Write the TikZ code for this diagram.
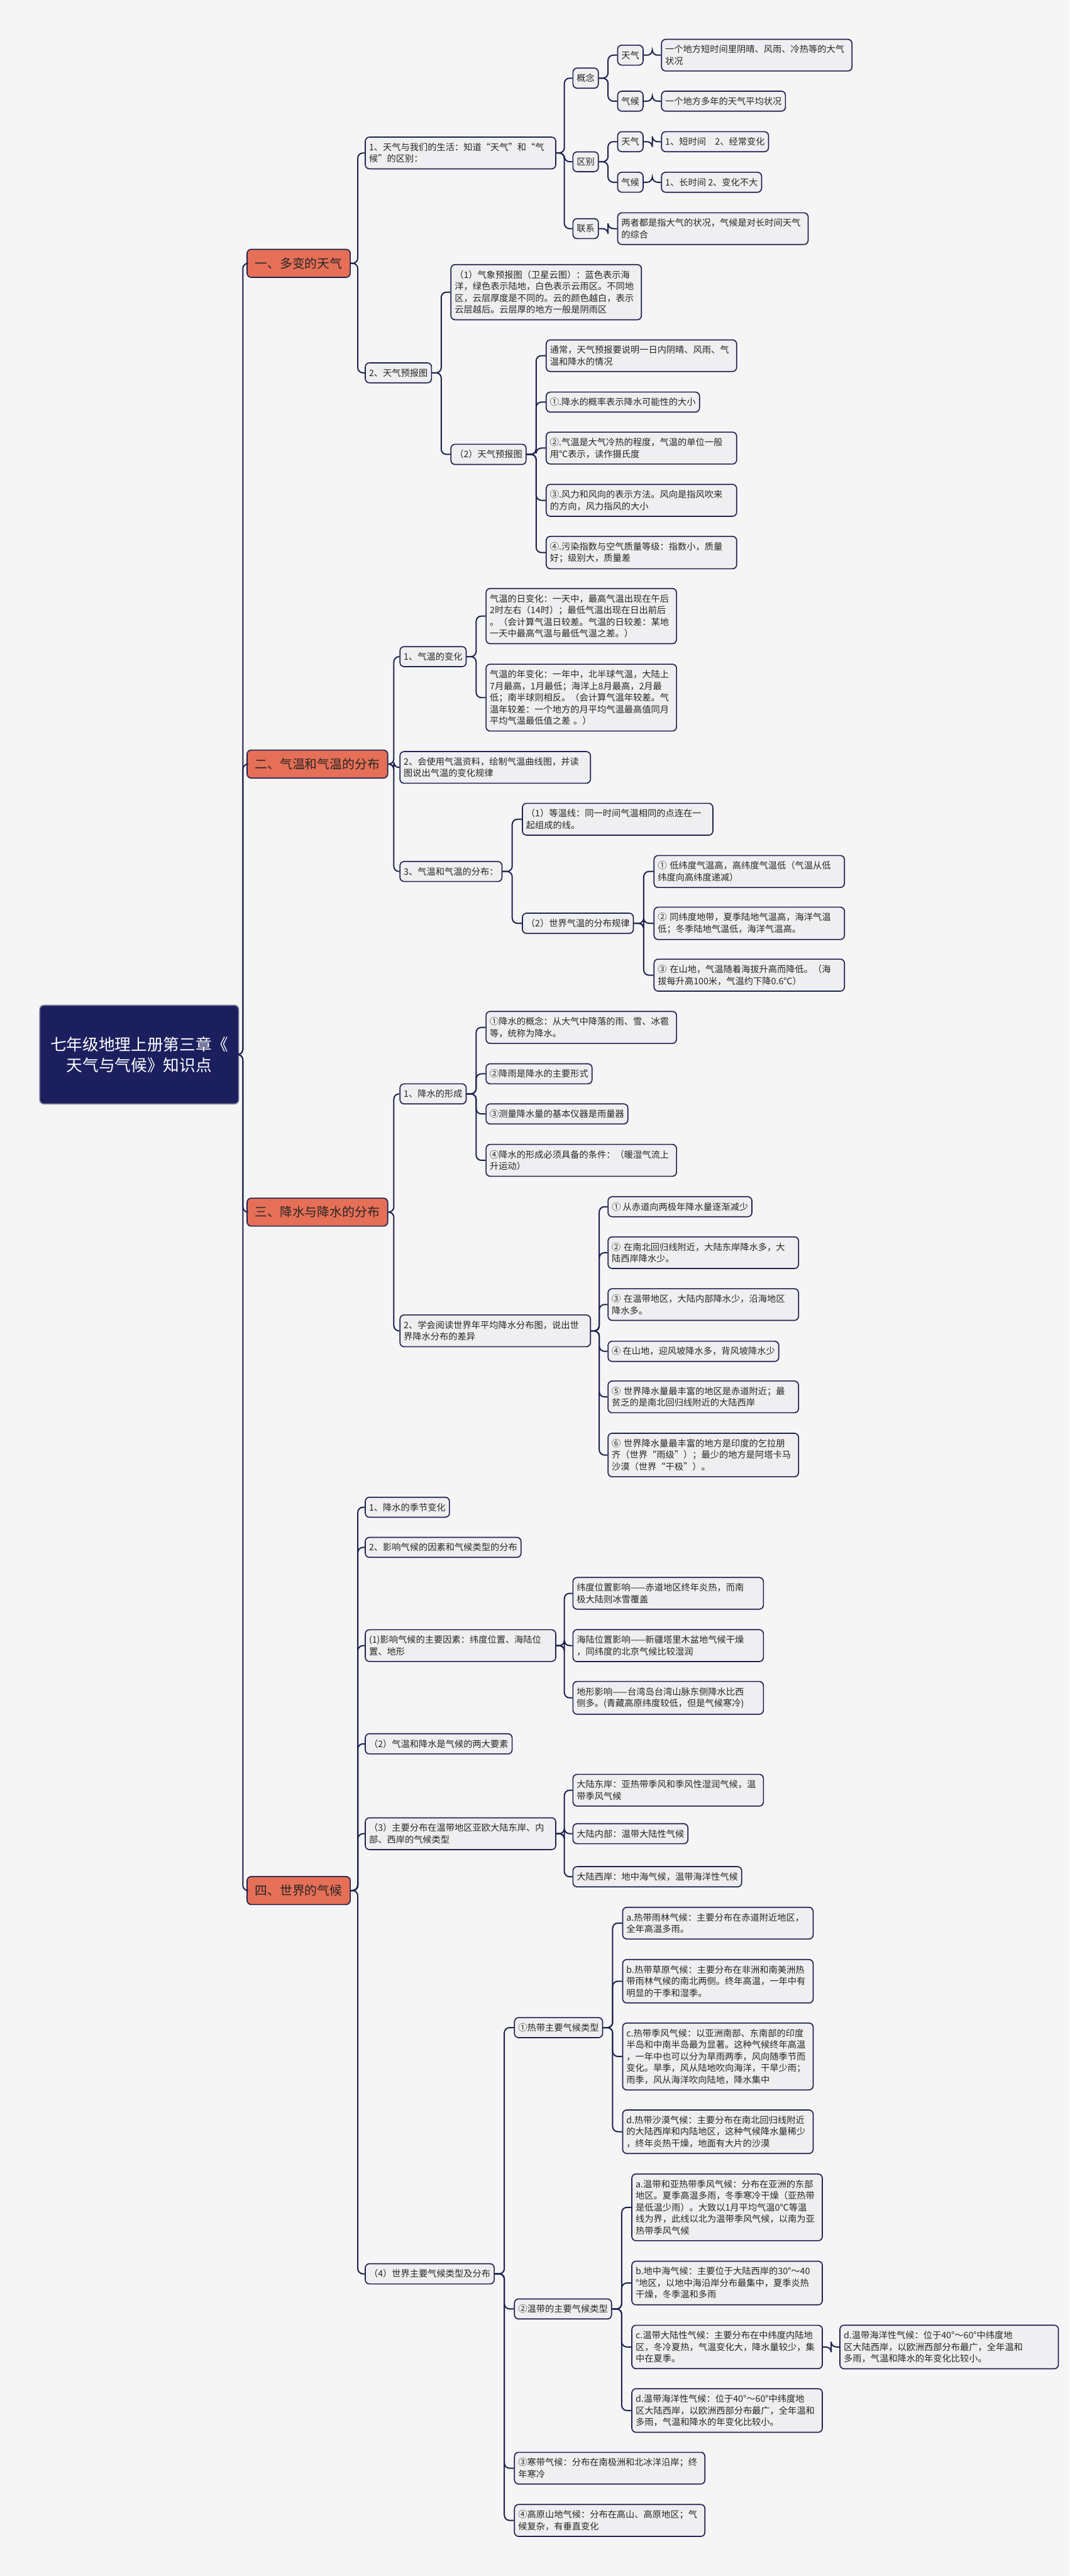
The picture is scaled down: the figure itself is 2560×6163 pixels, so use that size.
\documentclass[tikz,border=0pt]{standalone}
\usepackage{fontspec}
\setmainfont{Noto Sans CJK SC}
\usetikzlibrary{calc}

\definecolor{paper}{HTML}{F5F5F5}
\definecolor{ink}{HTML}{1E2150}
\definecolor{boxfill}{HTML}{EFEFF1}
\definecolor{topicfill}{HTML}{E66F57}
\definecolor{rootfill}{HTML}{1B1F5E}

\begin{document}
\begin{tikzpicture}[x=0.02cm, y=-0.02cm,
    leaf/.style={draw=ink, line width=0.05cm, fill=boxfill, rounded corners=0.2cm,
      anchor=west, align=left, inner xsep=0.18cm, inner ysep=0.28cm,
      font=\fontsize{12.2pt}{15.9pt}\selectfont, text=black!85},
    wide/.style={leaf, text width=8.76cm},
    topic/.style={draw=ink, line width=0.05cm, fill=topicfill, rounded corners=0.2cm,
      anchor=west, inner xsep=0.38cm, minimum height=1.34cm,
      font=\fontsize{17pt}{20pt}\selectfont, text=black!85},
    link/.style={draw=ink, line width=0.06cm, rounded corners=0.25cm}]

\fill[paper] (0,0) rectangle (2560,6163);

% root and topics
\node[draw=ink!60, line width=0.05cm, fill=rootfill, rounded corners=0.2cm, anchor=west,
  minimum width=9.52cm, minimum height=4.72cm, align=center, text=white,
  font=\fontsize{22pt}{28pt}\selectfont] (root) at (94,2523) {七年级地理上册第三章《\\天气与气候》知识点};
\node[topic] (t1) at (590,630) {一、多变的天气};
\node[topic] (t2) at (590,1828) {二、气温和气温的分布};
\node[topic] (t3) at (590,2900) {三、降水与降水的分布};
\node[topic] (t4) at (590,4523) {四、世界的气候};

% 一
\node[wide] (w1) at (873,366) {1、天气与我们的生活：知道“天气”和“气\\候”的区别：};
\node[leaf] (w2) at (873,892) {2、天气预报图};
\node[leaf] (gn) at (1370,187) {概念};
\node[leaf] (qb) at (1370,387) {区别};
\node[leaf] (lx) at (1370,547) {联系};
\node[leaf] (gn1) at (1477,132) {天气};
\node[leaf] (gn2) at (1477,242) {气候};
\node[wide] (gn1t) at (1582,132) {一个地方短时间里阴晴、风雨、冷热等的大气\\状况};
\node[leaf] (gn2t) at (1582,242) {一个地方多年的天气平均状况};
\node[leaf] (qb1) at (1477,339) {天气};
\node[leaf] (qb2) at (1477,436) {气候};
\node[leaf] (qb1t) at (1582,339) {1、短时间\quad 2、经常变化};
\node[leaf] (qb2t) at (1582,436) {1、长时间 2、变化不大};
\node[wide] (lxt) at (1477,547) {两者都是指大气的状况，气候是对长时间天气\\的综合};
\node[wide] (yb1) at (1078,699) {（1）气象预报图（卫星云图）：蓝色表示海\\洋，绿色表示陆地，白色表示云雨区。不同地\\区，云层厚度是不同的。云的颜色越白，表示\\云层越后。云层厚的地方一般是阴雨区};
\node[leaf] (yb2) at (1078,1087) {（2）天气预报图};
\node[wide] (yb2a) at (1306,851) {通常，天气预报要说明一日内阴晴、风雨、气\\温和降水的情况};
\node[leaf] (yb2b) at (1306,962) {①.降水的概率表示降水可能性的大小};
\node[wide] (yb2c) at (1306,1072) {②.气温是大气冷热的程度，气温的单位一般\\用℃表示，读作摄氏度};
\node[wide] (yb2d) at (1306,1197) {③.风力和风向的表示方法。风向是指风吹来\\的方向，风力指风的大小};
\node[wide] (yb2e) at (1306,1322) {④.污染指数与空气质量等级：指数小，质量\\好；级别大，质量差};

% 二
\node[leaf] (tp1) at (956,1571) {1、气温的变化};
\node[wide] (tp2) at (956,1836) {2、会使用气温资料，绘制气温曲线图，并读\\图说出气温的变化规律};
\node[leaf] (tp3) at (956,2085) {3、气温和气温的分布：};
\node[wide] (tp1a) at (1162,1474) {气温的日变化：一天中，最高气温出现在午后\\2时左右（14时）；最低气温出现在日出前后\\。（会计算气温日较差。气温的日较差：某地\\一天中最高气温与最低气温之差。）};
\node[wide] (tp1b) at (1162,1669) {气温的年变化：一年中，北半球气温，大陆上\\7月最高，1月最低；海洋上8月最高，2月最\\低；南半球则相反。（会计算气温年较差。气\\温年较差：一个地方的月平均气温最高值同月\\平均气温最低值之差 。）};
\node[wide] (tp3a) at (1249,1960) {（1）等温线：同一时间气温相同的点连在一\\起组成的线。};
\node[leaf] (tp3b) at (1249,2209) {（2）世界气温的分布规律};
\node[wide] (tp3b1) at (1564,2085) {① 低纬度气温高，高纬度气温低（气温从低\\纬度向高纬度递减）};
\node[wide] (tp3b2) at (1564,2209) {② 同纬度地带，夏季陆地气温高，海洋气温\\低；冬季陆地气温低，海洋气温高。};
\node[wide] (tp3b3) at (1564,2333) {③ 在山地，气温随着海拔升高而降低。（海\\拔每升高100米，气温约下降0.6℃）};

% 三
\node[leaf] (rn1) at (956,2617) {1、降水的形成};
\node[wide] (rn2) at (956,3184) {2、学会阅读世界年平均降水分布图，说出世\\界降水分布的差异};
\node[wide] (rn1a) at (1162,2458) {①降水的概念：从大气中降落的雨、雪、冰雹\\等，统称为降水。};
\node[leaf] (rn1b) at (1162,2569) {②降雨是降水的主要形式};
\node[leaf] (rn1c) at (1162,2665) {③测量降水量的基本仪器是雨量器};
\node[wide] (rn1d) at (1162,2776) {④降水的形成必须具备的条件：（暖湿气流上\\升运动）};
\node[leaf] (rn2a) at (1454,2887) {① 从赤道向两极年降水量逐渐减少};
\node[wide] (rn2b) at (1454,2997) {② 在南北回归线附近，大陆东岸降水多，大\\陆西岸降水少。};
\node[wide] (rn2c) at (1454,3121) {③ 在温带地区，大陆内部降水少，沿海地区\\降水多。};
\node[leaf] (rn2d) at (1454,3233) {④ 在山地，迎风坡降水多，背风坡降水少};
\node[wide] (rn2e) at (1454,3342) {⑤ 世界降水量最丰富的地区是赤道附近；最\\贫乏的是南北回归线附近的大陆西岸};
\node[wide] (rn2f) at (1454,3481) {⑥ 世界降水量最丰富的地方是印度的乞拉朋\\齐（世界“雨级”）；最少的地方是阿塔卡马\\沙漠（世界“干极”）。};

% 四
\node[leaf] (cl1) at (873,3606) {1、降水的季节变化};
\node[leaf] (cl2) at (873,3702) {2、影响气候的因素和气候类型的分布};
\node[wide] (cl3) at (873,3937) {(1)影响气候的主要因素：纬度位置、海陆位\\置、地形};
\node[leaf] (cl4) at (873,4172) {（2）气温和降水是气候的两大要素};
\node[wide] (cl5) at (873,4387) {（3）主要分布在温带地区亚欧大陆东岸、内\\部、西岸的气候类型};
\node[leaf] (cl6) at (873,5440) {（4）世界主要气候类型及分布};
\node[wide] (cl3a) at (1370,3812) {纬度位置影响——赤道地区终年炎热，而南\\极大陆则冰雪覆盖};
\node[wide] (cl3b) at (1370,3937) {海陆位置影响——新疆塔里木盆地气候干燥\\，同纬度的北京气候比较湿润};
\node[wide] (cl3c) at (1370,4062) {地形影响——台湾岛台湾山脉东侧降水比西\\侧多。(青藏高原纬度较低，但是气候寒冷)};
\node[wide] (cl5a) at (1370,4283) {大陆东岸：亚热带季风和季风性湿润气候，温\\带季风气候};
\node[leaf] (cl5b) at (1370,4387) {大陆内部：温带大陆性气候};
\node[leaf] (cl5c) at (1370,4490) {大陆西岸：地中海气候，温带海洋性气候};
\node[leaf] (zone1) at (1230,4851) {①热带主要气候类型};
\node[leaf] (zone2) at (1230,5524) {②温带的主要气候类型};
\node[wide] (zone3) at (1230,5905) {③寒带气候：分布在南极洲和北冰洋沿岸；终\\年寒冷};
\node[wide] (zone4) at (1230,6030) {④高原山地气候：分布在高山、高原地区；气\\候复杂，有垂直变化};
\node[wide] (z1a) at (1489,4601) {a.热带雨林气候：主要分布在赤道附近地区，\\全年高温多雨。};
\node[wide] (z1b) at (1489,4740) {b.热带草原气候：主要分布在非洲和南美洲热\\带雨林气候的南北两侧。终年高温，一年中有\\明显的干季和湿季。};
\node[wide] (z1c) at (1489,4920) {c.热带季风气候：以亚洲南部、东南部的印度\\半岛和中南半岛最为显著。这种气候终年高温\\，一年中也可以分为旱雨两季，风向随季节而\\变化。旱季，风从陆地吹向海洋，干旱少雨；\\雨季，风从海洋吹向陆地，降水集中};
\node[wide] (z1d) at (1489,5100) {d.热带沙漠气候：主要分布在南北回归线附近\\的大陆西岸和内陆地区，这种气候降水量稀少\\，终年炎热干燥，地面有大片的沙漠};
\node[wide] (z2a) at (1511,5281) {a.温带和亚热带季风气候：分布在亚洲的东部\\地区。夏季高温多雨，冬季寒冷干燥（亚热带\\是低温少雨）。大致以1月平均气温0℃等温\\线为界，此线以北为温带季风气候，以南为亚\\热带季风气候};
\node[wide] (z2b) at (1511,5462) {b.地中海气候：主要位于大陆西岸的30°～40\\°地区，以地中海沿岸分布最集中，夏季炎热\\干燥，冬季温和多雨};
\node[wide] (z2c) at (1511,5615) {c.温带大陆性气候：主要分布在中纬度内陆地\\区，冬冷夏热，气温变化大，降水量较少，集\\中在夏季。};
\node[wide] (z2d) at (1511,5767) {d.温带海洋性气候：位于40°～60°中纬度地\\区大陆西岸，以欧洲西部分布最广，全年温和\\多雨，气温和降水的年变化比较小。};
\node[leaf, text width=10.1cm] (z2cx) at (2009,5615) {d.温带海洋性气候：位于40°～60°中纬度地\\区大陆西岸，以欧洲西部分布最广，全年温和\\多雨，气温和降水的年变化比较小。};

% connectors
\foreach \p/\kids in {root/{t1,t2,t3,t4}, t1/{w1,w2}, w1/{gn,qb,lx}, gn/{gn1,gn2}, qb/{qb1,qb2},
    gn1/{gn1t}, gn2/{gn2t}, qb1/{qb1t}, qb2/{qb2t}, lx/{lxt}, w2/{yb1,yb2}, yb2/{yb2a,yb2b,yb2c,yb2d,yb2e},
    t2/{tp1,tp2,tp3}, tp1/{tp1a,tp1b}, tp3/{tp3a,tp3b}, tp3b/{tp3b1,tp3b2,tp3b3},
    t3/{rn1,rn2}, rn1/{rn1a,rn1b,rn1c,rn1d}, rn2/{rn2a,rn2b,rn2c,rn2d,rn2e,rn2f},
    t4/{cl1,cl2,cl3,cl4,cl5,cl6}, cl3/{cl3a,cl3b,cl3c}, cl5/{cl5a,cl5b,cl5c}, cl6/{zone1,zone2,zone3,zone4},
    zone1/{z1a,z1b,z1c,z1d}, zone2/{z2a,z2b,z2c,z2d}, z2c/{z2cx}}
  \foreach \c in \kids
    \draw[link] (\p.east) -- ($(\p.east)!.5!(\p.east-|\c.west)$) |- (\c.west);

\end{tikzpicture}
\end{document}
